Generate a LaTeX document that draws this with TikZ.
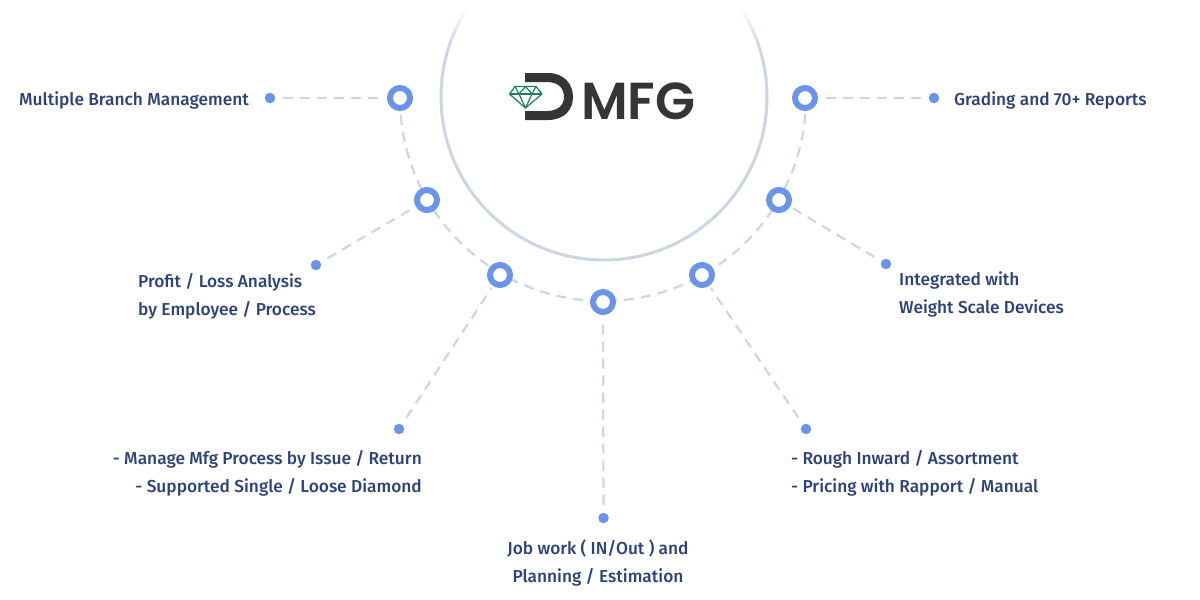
\documentclass[tikz,border=0pt]{standalone}
\usepackage{fontspec}
\setmainfont{Fira Sans}[UprightFont=*-Medium,BoldFont=*-SemiBold]
\newfontfamily\logofont{Poppins}[UprightFont=*-SemiBold]
\definecolor{txt}{HTML}{2C4278}
\definecolor{blu}{HTML}{6A94EA}
\definecolor{lin}{HTML}{CDD7E3}
\definecolor{drk}{HTML}{353535}
\definecolor{grn}{HTML}{1F7F63}
\tikzset{
  ring/.style={circle,draw=blu,line width=6pt,fill=white,minimum size=20pt,inner sep=0pt,outer sep=0pt},
  dotn/.style={circle,fill=blu,minimum size=10.5pt,inner sep=0pt},
  dashl/.style={draw=lin,line width=2.2pt,dash pattern=on 10pt off 7pt},
  spoke/.style={dashl,shorten <=8pt,shorten >=6pt},
  lab/.style={text=txt,font=\fontsize{17.3}{27.4}\selectfont,inner sep=0pt},
}
\begin{document}
\begin{tikzpicture}[x=1pt,y=-1pt]
\useasboundingbox (0,0) rectangle (1200,600);
\fill[white] (0,0) rectangle (1200,600);
\begin{scope}
\clip (0,0) rectangle (1200,600);
\draw[lin,line width=3pt] (604,97) circle (163);
\foreach \i in {0,...,44} {
  \pgfmathsetmacro{\op}{min(1,max(0,(46-\i)/40))}
  \fill[white,opacity=\op] (440,\i) rectangle (768,\i+1);
}
\end{scope}
\node[dotn] (d1) at (270,98) {};
\node[dotn] (d2) at (316,265) {};
\node[dotn] (d3) at (399,429) {};
\node[dotn] (d4) at (603.5,518) {};
\node[dotn] (d5) at (806,429) {};
\node[dotn] (d6) at (886,264) {};
\node[dotn] (d7) at (934,98) {};
\draw[dashl] (400,98) arc[start angle=180,end angle=0,radius=203];
\node[ring] (r1) at (400,98) {};
\node[ring] (r2) at (427,200) {};
\node[ring] (r3) at (500,275) {};
\node[ring] (r4) at (603,302) {};
\node[ring] (r5) at (702,275) {};
\node[ring] (r6) at (779,200) {};
\node[ring] (r7) at (805,98) {};
\draw[spoke] (d1) -- (r1);
\draw[spoke] (d2) -- (r2);
\draw[spoke] (d3) -- (r3);
\draw[spoke] (d4) -- (r4);
\draw[spoke] (d5) -- (r5);
\draw[spoke] (d6) -- (r6);
\draw[spoke] (d7) -- (r7);
\node[lab,anchor=base west] (t1) at (19,105) {Multiple Branch Management};
\node[lab,anchor=base west,align=left] (t2) at (138,315) {Profit / Loss Analysis\\by Employee / Process};
\node[lab,anchor=base east,align=right] (t3) at (422,492) {- Manage Mfg Process by Issue / Return\\- Supported Single / Loose Diamond};
\node[lab,anchor=base,align=center] (t4) at (598,582) {Job work ( IN/Out ) and\\Planning / Estimation};
\node[lab,anchor=base west,align=left] (t5) at (791,492) {- Rough Inward / Assortment\\- Pricing with Rapport / Manual};
\node[lab,anchor=base west,align=left] (t6) at (899,313) {Integrated with\\Weight Scale Devices};
\node[lab,anchor=base west] (t7) at (954,105) {Grading and 70+ Reports};
% logo
\fill[drk] (525,73) -- (548,73) .. controls (564,73) and (573,84) .. (573,97) .. controls (573,110) and (564,120) .. (548,120) -- (525,120) -- (525,111) -- (547,111) .. controls (558,111) and (564,105) .. (564,97) .. controls (564,88) and (558,82) .. (547,82) -- (525,82) -- cycle;
\begin{scope}[grn,line width=1.2pt,line join=round]
\draw[fill=white] (515,86.5) -- (536,86.5) -- (542,94) -- (525.5,108) -- (509.5,94) -- cycle;
\draw (509.5,94) -- (542,94);
\draw (515,86.5) -- (519,94) -- (525.5,108) -- (532,94) -- (536,86.5);
\draw (519,94) -- (525.5,86.5) -- (532,94);
\end{scope}
\node[text=drk,anchor=base west,inner sep=0pt,font=\logofont\fontsize{52}{52}\selectfont] (lg) at (581,119) {MFG};
\end{tikzpicture}
\end{document}
